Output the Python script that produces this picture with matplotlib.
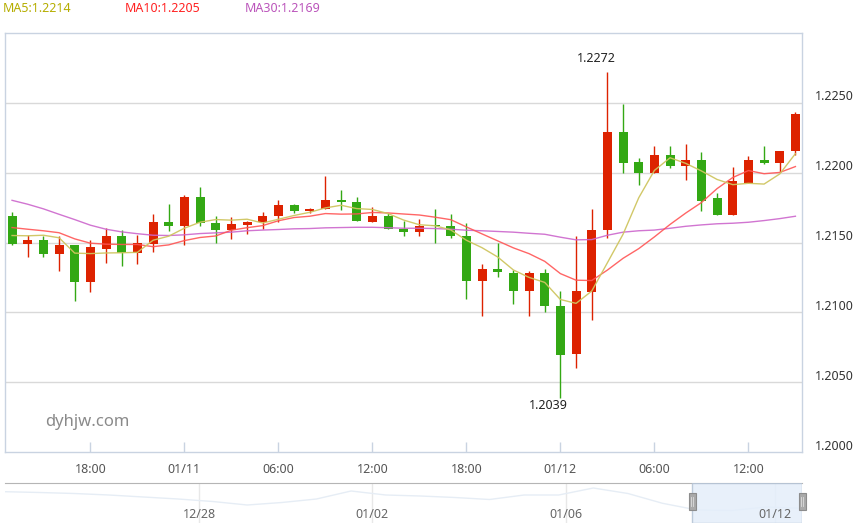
import matplotlib
matplotlib.use('Agg')
import matplotlib.pyplot as plt
import matplotlib.transforms as mtrans
from matplotlib.patches import Rectangle
import numpy as np
import pandas as pd

plt.rcParams['font.family'] = ['Noto Sans', 'DejaVu Sans']

# ---------------- data ----------------
start_time = '2021-01-10 13:00'
opens = [1.21693, 1.21488, 1.21521, 1.21416, 1.21479, 1.21216, 1.21452, 1.21543, 1.21424, 1.21488,
         1.21650, 1.21616, 1.21829, 1.21643, 1.21588, 1.21624, 1.21645, 1.21688, 1.21771, 1.21724,
         1.21738, 1.21807, 1.21793, 1.21645, 1.21693, 1.21597, 1.21574, 1.21624, 1.21621, 1.21550,
         1.21224, 1.21307, 1.21279, 1.21152, 1.21279, 1.21043, 1.20702, 1.21145, 1.21588, 1.22293,
         1.22076, 1.22000, 1.22129, 1.22045, 1.22093, 1.21821, 1.21695, 1.21924, 1.22093, 1.22066,
         1.22152]
highs = [1.21721, 1.21555, 1.21543, 1.21550, 1.21480, 1.21521, 1.21607, 1.21593, 1.21552, 1.21707,
         1.21779, 1.21843, 1.21900, 1.21693, 1.21679, 1.21657, 1.21721, 1.21807, 1.21779, 1.21750,
         1.21979, 1.21879, 1.21829, 1.21757, 1.21710, 1.21657, 1.21671, 1.21743, 1.21707, 1.21643,
         1.21343, 1.21493, 1.21300, 1.21293, 1.21307, 1.21150, 1.21543, 1.21743, 1.22720, 1.22493,
         1.22105, 1.22193, 1.22193, 1.22207, 1.22150, 1.21857, 1.22043, 1.22121, 1.22193, 1.22157,
         1.22431]
lows = [1.21479, 1.21395, 1.21395, 1.21295, 1.21081, 1.21145, 1.21352, 1.21331, 1.21345, 1.21431,
        1.21579, 1.21479, 1.21621, 1.21495, 1.21524, 1.21559, 1.21595, 1.21645, 1.21710, 1.21710,
        1.21738, 1.21731, 1.21652, 1.21645, 1.21595, 1.21545, 1.21545, 1.21495, 1.21531, 1.21095,
        1.20974, 1.21250, 1.21057, 1.20974, 1.21002, 1.20390, 1.20602, 1.20945, 1.21531, 1.21995,
        1.21909, 1.21995, 1.22031, 1.21945, 1.21724, 1.21695, 1.21695, 1.21924, 1.22059, 1.22002,
        1.22129]
closes = [1.21488, 1.21521, 1.21416, 1.21479, 1.21216, 1.21471, 1.21543, 1.21424, 1.21493, 1.21650,
          1.21616, 1.21829, 1.21638, 1.21588, 1.21629, 1.21650, 1.21693, 1.21771, 1.21724, 1.21743,
          1.21807, 1.21788, 1.21652, 1.21693, 1.21595, 1.21574, 1.21621, 1.21616, 1.21545, 1.21224,
          1.21307, 1.21288, 1.21152, 1.21279, 1.21045, 1.20695, 1.21150, 1.21593, 1.22293, 1.22066,
          1.22000, 1.22129, 1.22045, 1.22093, 1.21795, 1.21695, 1.21943, 1.22093, 1.22066, 1.22157,
          1.22421]
# MA values before enough visible closes exist
ma5_head = [1.21550, 1.21548, 1.21552, 1.21534]
ma10_head = [1.21607, 1.21595, 1.21584, 1.21570, 1.21526, 1.21495, 1.21488, 1.21486, 1.21486]
ma30 = [1.21802, 1.21774, 1.21741, 1.21702, 1.21664, 1.21624, 1.21595, 1.21576, 1.21563, 1.21552,
        1.21550, 1.21555, 1.21564, 1.21569, 1.21574, 1.21584, 1.21589, 1.21593, 1.21598, 1.21600,
        1.21605, 1.21607, 1.21609, 1.21609, 1.21606, 1.21602, 1.21602, 1.21600, 1.21595, 1.21588,
        1.21584, 1.21579, 1.21574, 1.21566, 1.21559, 1.21538, 1.21519, 1.21521, 1.21552, 1.21574,
        1.21584, 1.21589, 1.21602, 1.21616, 1.21626, 1.21634, 1.21638, 1.21645, 1.21657, 1.21671,
        1.21688]
legend_labels = ['MA5:1.2214', 'MA10:1.2205', 'MA30:1.2169']
y_ticks = [1.2000, 1.2050, 1.2100, 1.2150, 1.2200, 1.2250]
y_range = [1.2000, 1.2300]
# navigator (overview strip), relative levels
nav_values = [31.3, 30.5, 29.5, 28.0, 26.0, 24.0, 21.5, 18.0, 20.5, 24.0, 32.0, 28.0,
              27.0, 25.5, 23.5, 28.0, 28.0, 35.0, 29.5, 19.7, 13.0, 12.5, 16.0, 14.7]
nav_tick_pos = [5.61, 10.6, 16.2, 22.25]
nav_tick_labels = ['12/28', '01/02', '01/06', '01/12']
nav_window = [19.86, 23.03]

# ---------------- styles ----------------
UP = '#dd2200'
DOWN = '#33a814'
C_MA5, C_MA10, C_MA30 = '#cfc560', '#ff5555', '#cc66cc'
T_MA5, T_MA10, T_MA30 = '#b5ad00', '#ff2222', '#bb55bb'
BORDER = '#c9d3e1'
GRID = '#d9d9d9'

W, H = 859, 525
fig = plt.figure(figsize=(W / 100, H / 100), dpi=100)
fig.patch.set_facecolor('white')

L, R, T, B = 5, 802, 33, 452
ax = fig.add_axes([L / W, (H - B) / H, (R - L) / W, (B - T) / H])

n = len(closes)
idx = np.arange(n)
o = np.array(opens); c = np.array(closes); h = np.array(highs); l = np.array(lows)
up = c >= o
colors = np.where(up, UP, DOWN)

ax.vlines(idx, l, h, colors=colors, linewidth=1.0, zorder=3)
body_bottom = np.minimum(o, c)
body_h = np.maximum(np.abs(c - o), 0.00008)
ax.bar(idx, body_h, bottom=body_bottom, width=0.57, color=colors, edgecolor='none', zorder=4)

cs = pd.Series(closes)
ma5 = cs.rolling(5).mean().to_numpy()
ma5[:len(ma5_head)] = ma5_head
ma10 = cs.rolling(10).mean().to_numpy()
ma10[:len(ma10_head)] = ma10_head

ax.plot(idx, ma30, color=C_MA30, lw=1.0, zorder=5, alpha=0.9)
ax.plot(idx, ma10, color=C_MA10, lw=1.0, zorder=6, alpha=0.9)
ax.plot(idx, ma5, color=C_MA5, lw=1.0, zorder=7, alpha=0.95)

ax.set_xlim(-0.45, n - 1 + 0.42)
ax.set_ylim(*y_range)

# grid
for v in y_ticks[1:]:
    ax.axhline(v, color=GRID, lw=1, zorder=1)
for s in ax.spines.values():
    s.set_color(BORDER)
    s.set_linewidth(1)

# y labels on right, slightly above the grid lines
ax.set_yticks([])
ytrans = mtrans.blended_transform_factory(ax.transAxes, ax.transData) + \
    mtrans.ScaledTranslation(13 / 100, 6 / 100, fig.dpi_scale_trans)
for v in y_ticks:
    ax.text(1.0, v, f'{v:.4f}', transform=ytrans, ha='left', va='center',
            fontsize=9, color='#333333')

# x ticks every 6 hours
times = pd.date_range(start_time, periods=n, freq='h')
tick_idx = [i for i, t in enumerate(times) if t.hour % 6 == 0]
tick_lab = [times[i].strftime('%m/%d') if times[i].hour == 0 else times[i].strftime('%H:%M')
            for i in tick_idx]
ax.set_xticks(tick_idx)
ax.set_xticklabels(tick_lab)
ax.tick_params(axis='x', direction='in', length=7, width=1, color=BORDER,
               pad=8, labelsize=9, labelcolor='#555555')

# high / low annotations
ih = int(np.argmax(h)); il = int(np.argmin(l))
ax.annotate(f'{h[ih]:.4f}', xy=(ih, h[ih]), xytext=(-11.5 * 0.72, 14 * 0.72),
            textcoords='offset points', ha='center', va='center', fontsize=9, color='#222222')
ax.annotate(f'{l[il]:.4f}', xy=(il, l[il]), xytext=(-12 * 0.72, -7.5 * 0.72),
            textcoords='offset points', ha='center', va='center', fontsize=9, color='#222222')

# watermark
ax.text(40 / (R - L), (B - 422) / (B - T), 'dyhjw.com', transform=ax.transAxes,
        fontsize=12, color='#8a8a8a', ha='left', va='center')

# legend texts
for txt, col, xpx in zip(legend_labels, [T_MA5, T_MA10, T_MA30], [3, 125, 245]):
    fig.text(xpx / W, 1 - 9 / H, txt, color=col, fontsize=9, ha='left', va='center')

# ---------------- navigator ----------------
NT, NB = 483, 523
nav = fig.add_axes([L / W, (H - NB) / H, (R - L) / W, (NB - NT) / H])
nav.set_xlim(0, nav_window[1])
nav.set_ylim(0, 40)
nav.plot(np.arange(len(nav_values)), nav_values, color='#e6edf5', lw=1, zorder=2)
for p in nav_tick_pos:
    nav.axvline(p, color='#e8e8e8', lw=1, zorder=1)
for p, lab in zip(nav_tick_pos, nav_tick_labels):
    nav.text(p, 0.2, lab, transform=mtrans.blended_transform_factory(nav.transData, nav.transAxes),
             ha='center', va='center', fontsize=9, color='#666666', zorder=5)
nav.set_xticks([]); nav.set_yticks([])
for k, s in nav.spines.items():
    s.set_visible(k == 'top')
nav.spines['top'].set_color('#b5b5b5')
nav.axvspan(nav_window[0], nav_window[1], facecolor='#e4eefa', edgecolor='#b3c2d4',
            lw=1, zorder=3, alpha=0.85)
px_per_unit = (R - L) / nav_window[1]
hw = 7 / px_per_unit
btr = mtrans.blended_transform_factory(nav.transData, nav.transAxes)
for xe in nav_window:
    nav.add_patch(Rectangle((xe - hw / 2, (NB - 510) / 40), hw, 17 / 40, transform=btr,
                            facecolor='#a9a9a9', edgecolor='#8c8c8c', lw=0.8, zorder=6,
                            clip_on=False))
    nav.plot([xe - hw / 6, xe - hw / 6], [(NB - 506) / 40, (NB - 497) / 40], transform=btr,
             color='#dddddd', lw=0.6, zorder=7, clip_on=False)
    nav.plot([xe + hw / 6, xe + hw / 6], [(NB - 506) / 40, (NB - 497) / 40], transform=btr,
             color='#dddddd', lw=0.6, zorder=7, clip_on=False)

fig.savefig('out.png', dpi=100)
